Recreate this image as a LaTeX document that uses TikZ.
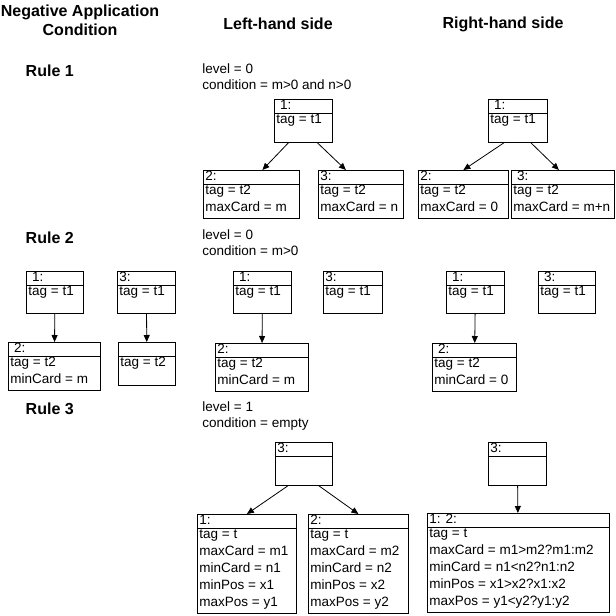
\documentclass[tikz,border=0pt]{standalone}
\usepackage{fontspec}
\setmainfont{Liberation Sans}
\usetikzlibrary{arrows.meta}
\usetikzlibrary{positioning}

% object box: name, top left corner, width, height, header, attributes
\newcommand{\objbox}[6]{%
  \node[obj, minimum width=#3pt, minimum height=#4pt] (#1) at (#2) {};
  \draw ([yshift=-14pt]#1.north west) -- ([yshift=-14pt]#1.north east);
  \node[objtext] (#1-head) at (#1.north west) {#5};
  \node[objtext] (#1-attr) at ([yshift=-14pt]#1.north west) {#6};
}

\begin{document}
\begin{tikzpicture}[x=1pt,y=-1pt,line width=0.8pt,
        >={Triangle[length=7pt,width=6pt]},
        obj/.style = {draw,anchor=north west,inner sep=0pt},
        objtext/.style = {anchor=north west,align=left,inner xsep=2pt,inner ysep=1pt,
            font=\fontsize{13.5}{17}\selectfont},
        heading/.style = {align=center,font=\bfseries\fontsize{16}{19}\selectfont},
        cond/.style = {anchor=north west,align=left,inner sep=0pt,
            font=\fontsize{13.5}{16.5}\selectfont}]
    \useasboundingbox (0,0) rectangle (616,616);
    % column headings
    \node[heading] (nac) at (80,20) {Negative Application\\Condition};
    \node[heading] (lhs) at (278,24) {Left-hand side};
    \node[heading] (rhs) at (503,24) {Right-hand side};
    \node[heading,anchor=west] (rule1) at (22,71) {Rule 1};
    \node[heading,anchor=west] (rule2) at (22,238) {Rule 2};
    \node[heading,anchor=west] (rule3) at (22,409) {Rule 3};
    \node[cond] (cond1) at (202,63) {level = 0\\condition = m>0 and n>0};
    \node[cond] (cond2) at (202,229) {level = 0\\condition = m>0};
    \node[cond] (cond3) at (202,401) {level = 1\\condition = empty};

    % rule 1
    \objbox{l1a}{274,99}{58}{43}{~1:}{tag = t1}
    \objbox{l1b}{203,170}{96}{48}{2:}{tag = t2\\maxCard = m}
    \objbox{l1c}{318,170}{85}{48}{3:}{tag = t2\\maxCard = n}
    \objbox{r1a}{488,99}{59}{43}{~1:}{tag = t1}
    \objbox{r1b}{418,170}{90}{48}{2:}{tag = t2\\maxCard = 0}
    \objbox{r1c}{511,170}{103}{48}{~3:}{tag = t2\\maxCard = m+n}
    \path ([xshift=-15pt]l1a.south) edge[->] ([xshift=11pt]l1b.north)
          ([xshift=14pt]l1a.south) edge[->] ([xshift=-15pt]l1c.north)
          ([xshift=-14pt]r1a.south) edge[->] (r1b.north)
          ([xshift=13pt]r1a.south) edge[->] ([xshift=-4pt]r1c.north);

    % rule 2
    \objbox{n2a}{26,271}{57}{42}{~1:}{tag = t1}
    \objbox{n2c}{117,271}{58}{42}{3:}{tag = t1}
    \objbox{n2b}{8,342}{92}{48}{~2:}{tag = t2\\minCard = m}
    \objbox{n2d}{118,342}{57}{43}{}{tag = t2}
    \objbox{l2a}{233,271}{58}{42}{~1:}{tag = t1}
    \objbox{l2c}{323,271}{59}{42}{3:}{tag = t1}
    \objbox{l2b}{215,343}{93}{48}{2:}{tag = t2\\minCard = m}
    \objbox{r2a}{446,271}{58}{42}{~1:}{tag = t1}
    \objbox{r2c}{538,271}{57}{42}{~3:}{tag = t1}
    \objbox{r2b}{432,343}{84}{48}{~2:}{tag = t2\\minCard = 0}
    \path (n2a) edge[->] (n2b)
          (n2c) edge[->] (n2d)
          (l2a) edge[->] (l2b)
          (r2a) edge[->] (r2b);

    % rule 3
    \objbox{l3c}{275,442}{57}{43}{3:}{}
    \objbox{l3a}{197,514}{99}{99}{1:}{tag = t\\maxCard = m1\\minCard = n1\\minPos = x1\\maxPos = y1}
    \objbox{l3b}{308,514}{100}{99}{2:}{tag = t\\maxCard = m2\\minCard = n2\\minPos = x2\\maxPos = y2}
    \objbox{r3c}{488,442}{58}{43}{3:}{}
    \objbox{r3a}{427,513}{182}{99}{1: 2:}{tag = t\\maxCard = m1>m2?m1:m2\\minCard = n1<n2?n1:n2\\minPos = x1>x2?x1:x2\\maxPos = y1<y2?y1:y2}
    \path ([xshift=-16pt]l3c.south) edge[->] (l3a.north)
          ([xshift=15pt]l3c.south) edge[->] (l3b.north)
          (r3c) edge[->] (r3a);
\end{tikzpicture}
\end{document}
